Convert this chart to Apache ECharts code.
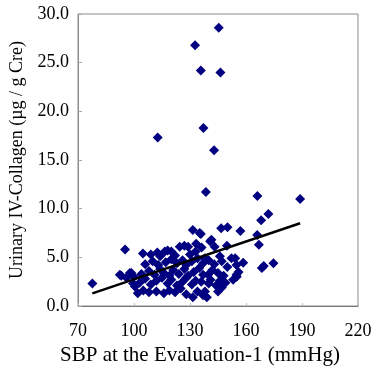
<!DOCTYPE html>
<html>
<head>
<meta charset="utf-8">
<script src="https://cdn.jsdelivr.net/npm/echarts@6/dist/echarts.min.js"></script>
<style>
html,body{margin:0;padding:0;background:#fff}
#chart{width:389px;height:379px}
</style>
</head>
<body>
<div id="chart"></div>
<script>
// SBP (mmHg) of each subject
const sbp = [
  145.4, 132.7, 135.8, 146.3, 137.2, 112.7, 142.9, 138.5, 166.1, 189.0, 172.0, 168.1,
  131.5, 135.8, 135.2, 146.7, 150.1, 157.0, 166.0, 141.5,
  95.2, 104.8, 109.0, 112.5, 116.5, 120.0, 118.0, 124.5, 127.0, 129.0, 133.3, 136.2, 143.2, 149.8,
  122.0, 114.0, 138.0, 146.0, 152.2, 154.2, 130.0, 133.0, 140.8, 166.9,
  168.5, 169.5, 174.7, 158.5, 154.9, 154.9, 153.1, 156.0, 155.0,
  77.7, 92.4, 93.2, 97.8, 98.6, 99.5, 100.5, 96.0, 100.0,
  106, 110, 113, 117, 120, 123, 126, 128, 131, 134, 137, 140, 143, 147, 150,
  104, 108, 111, 114, 116, 119, 121, 124, 127, 129, 132, 135, 137, 139.7, 142, 145, 148,
  103, 106, 109, 112, 115, 118, 120, 123, 126, 128, 131, 133, 136, 140, 141, 144, 146, 149,
  102, 105, 108, 112, 116, 119, 122, 125, 128, 131.5, 134, 137, 139, 138, 145, 147
];
// urinary IV-collagen (µg / g Cre) of each subject
const collagen = [
  28.6, 26.8, 24.2, 24.0, 18.3, 17.3, 16.0, 11.7, 11.3, 11.0, 9.45, 8.8,
  7.8, 7.4, 7.5, 8.0, 8.1, 7.7, 7.3, 6.8,
  5.8, 5.4, 5.3, 5.5, 5.6, 5.6, 5.7, 6.1, 6.2, 6.1, 6.4, 6.0, 6.1, 6.2,
  5.2, 5.1, 4.9, 5.1, 4.9, 4.9, 5.3, 5.6, 6.65, 6.3,
  3.9, 4.1, 4.4, 4.45, 4.2, 3.2, 2.7, 3.5, 3.0,
  2.3, 3.2, 3.1, 3.4, 3.4, 2.3, 2.0, 2.9, 3.0,
  4.3, 4.6, 4.2, 4.5, 4.8, 4.4, 4.7, 4.2, 4.6, 4.9, 4.4, 4.7, 4.3, 4.6, 4.0,
  3.3, 3.6, 3.2, 3.8, 3.4, 3.1, 3.7, 3.3, 3.8, 3.1, 3.5, 3.9, 3.2, 3.2, 3.7, 3.4, 3.1,
  2.4, 2.8, 2.2, 2.6, 2.9, 2.3, 2.7, 2.1, 2.5, 2.9, 2.2, 2.6, 2.5, 2.3, 2.7, 2.1, 2.6, 2.4,
  1.3, 1.6, 1.4, 1.5, 1.3, 1.6, 1.4, 1.8, 1.2, 0.9, 1.5, 1.1, 0.9, 1.5, 1.5, 1.9
];
// linear trend line end points
const trendX = [77.7, 189.0];
const trendY = [1.3, 8.5];

const xTicks = [70, 100, 130, 160, 190, 220];
const yTicks = [0, 5, 10, 15, 20, 25, 30];

const chart = echarts.init(document.getElementById('chart'));
const font = 'Liberation Serif';

chart.setOption({
  animation: false,
  grid: {
    left: 78, right: 31, top: 14, bottom: 73,
    show: true, borderColor: '#8c8c8c', borderWidth: 1
  },
  xAxis: {
    type: 'value',
    min: xTicks[0], max: xTicks[xTicks.length - 1], interval: 30,
    name: 'SBP at the Evaluation-1 (mmHg)',
    nameLocation: 'middle', nameGap: 37,
    nameTextStyle: { fontFamily: font, fontSize: 21, color: '#000', padding: [0, 36, 0, 0] },
    axisLine: { lineStyle: { color: '#777', width: 1 } },
    axisTick: { show: true, inside: true, length: 3, lineStyle: { color: '#bbb' } },
    splitLine: { show: false },
    axisLabel: { fontFamily: font, fontSize: 18, color: '#000', margin: 16 }
  },
  yAxis: {
    type: 'value',
    min: yTicks[0], max: yTicks[yTicks.length - 1], interval: 5,
    name: 'Urinary IV-Collagen (µg / g Cre)',
    nameLocation: 'middle', nameGap: 52,
    nameTextStyle: { fontFamily: font, fontSize: 18, color: '#000' },
    axisLine: { show: true, lineStyle: { color: '#8c8c8c', width: 1 } },
    axisTick: { show: true, inside: true, length: 4, lineStyle: { color: '#aaa' } },
    splitLine: { show: false },
    axisLabel: {
      fontFamily: font, fontSize: 18, color: '#000', margin: 9,
      formatter: v => v.toFixed(1)
    }
  },
  series: [
    {
      type: 'scatter',
      symbol: 'diamond',
      symbolSize: 10,
      itemStyle: { color: '#000080', opacity: 1 },
      data: sbp.map((x, i) => [x, collagen[i]]),
      z: 2
    },
    {
      type: 'line',
      symbol: 'none',
      lineStyle: { color: '#000', width: 2.5 },
      data: trendX.map((x, i) => [x, trendY[i]]),
      z: 3
    }
  ]
});
</script>
</body>
</html>
